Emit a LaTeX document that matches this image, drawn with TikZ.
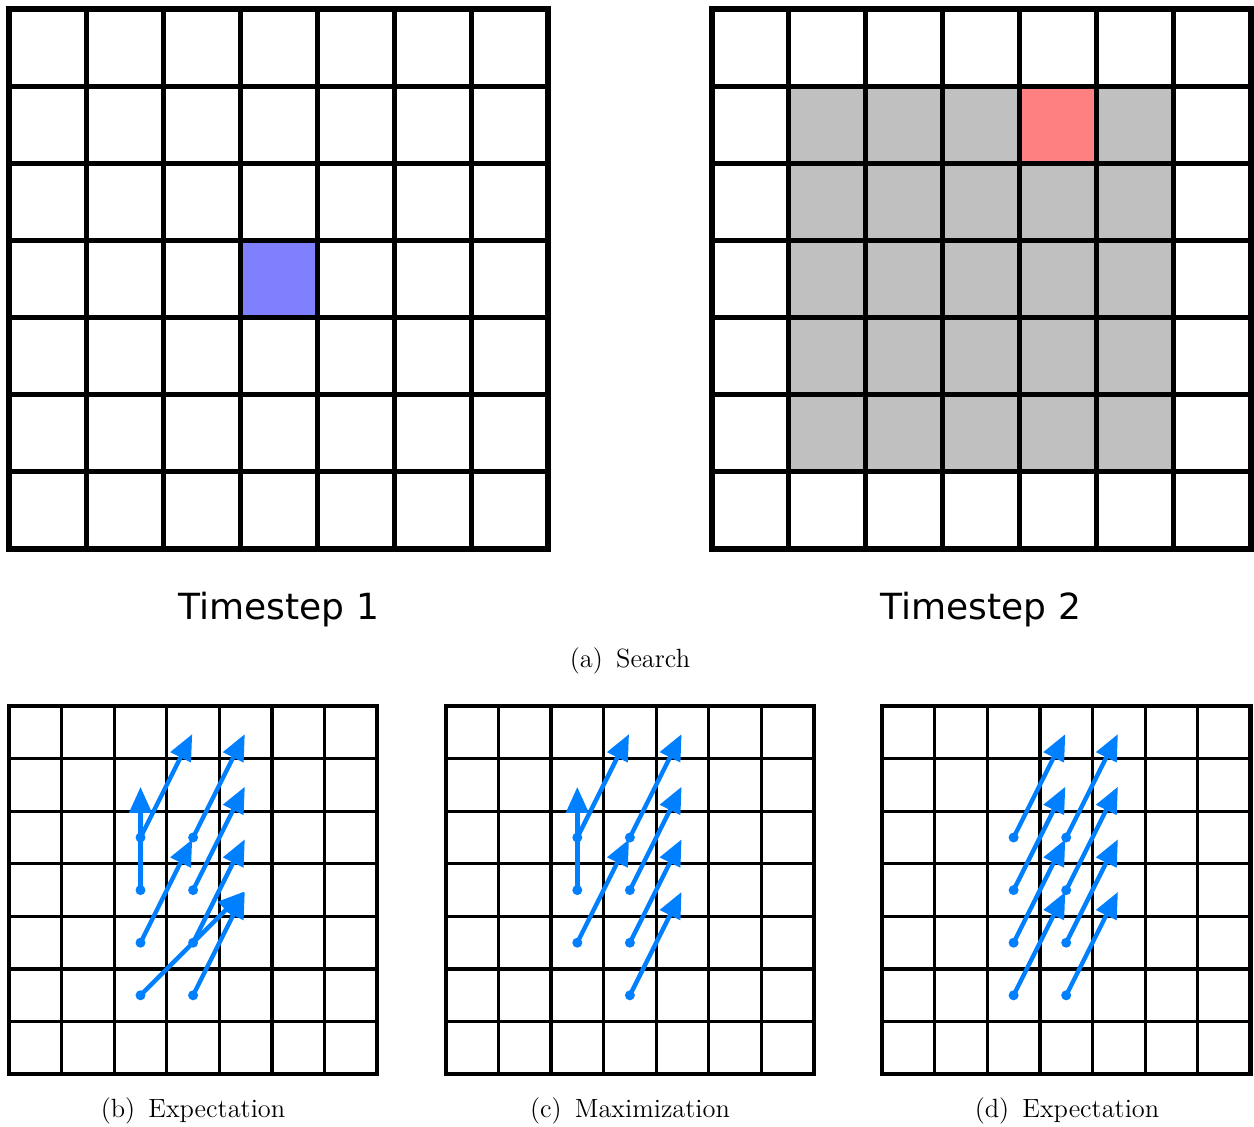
\documentclass[tikz,border=0pt]{standalone}
\usepackage{fontspec}
\newfontfamily\dejavu{DejaVu Sans}
\usetikzlibrary{arrows.meta}
\definecolor{arrowblue}{RGB}{0,128,255}
\definecolor{cellblue}{RGB}{128,128,255}
\definecolor{cellred}{RGB}{255,128,128}
\definecolor{cellgray}{RGB}{192,192,192}
\tikzset{
  bigcell/.style={draw=black, line width=1.25pt},
  smallcell/.style={draw=black, line width=0.8pt},
  bigframe/.style={draw=black, line width=3pt},
  smallframe/.style={draw=black, line width=2.25pt},
  dot/.style={circle, fill=arrowblue, inner sep=0pt, minimum size=5pt},
  arr/.style={draw=arrowblue, line width=2.2pt, -{Triangle[length=13pt,width=11pt]}, shorten >=1pt},
  tslabel/.style={font=\dejavu\fontsize{18}{21}\selectfont, anchor=base},
  caplabel/.style={font=\fontsize{13.2}{16}\selectfont, anchor=base}
}
\begin{document}
\begin{tikzpicture}[x=0.5pt,y=-0.5pt]
\useasboundingbox (0,0) rectangle (1254,1126);
\fill[white] (0,0) rectangle (1254,1126);

% ---- top grids ----
\def\bc{77.07}
% fills
\fill[cellblue] (9+3*\bc,9+3*\bc) rectangle ++(\bc,\bc);
\foreach \c in {1,...,5}{\foreach \r in {1,...,5}{
  \fill[cellgray] (711.5+\c*\bc,9+\r*\bc) rectangle ++(\bc,\bc);}}
\fill[cellred] (711.5+4*\bc,9+1*\bc) rectangle ++(\bc,\bc);
\foreach \gx in {9,711.5}{
  \foreach \c in {0,...,6}{\foreach \r in {0,...,6}{
    \draw[bigcell] (\gx+\c*\bc+1.2,9+\r*\bc+1.2) rectangle ++(\bc-2.4,\bc-2.4);}}
  \draw[bigframe] (\gx,9) rectangle ++(7*\bc,7*\bc);
}
\node[tslabel] (t1) at (279,619) {Timestep 1};
\node[tslabel] (t2) at (981,619) {Timestep 2};
\node[caplabel] (ca) at (630,667) {(a)\enspace Search};

% ---- bottom grids ----
\def\sc{52.6}
\foreach \gx/\g in {9/b,445.8/c,882.1/d}{
  \foreach \c in {0,...,6}{\foreach \r in {0,...,6}{
    \draw[smallcell] (\gx+\c*\sc+0.8,706+\r*\sc+0.8) rectangle ++(\sc-1.6,\sc-1.6);
    \coordinate (\g\c\r) at (\gx+\c*\sc+0.5*\sc,706+\r*\sc+0.5*\sc);}}
  \draw[smallframe] (\gx,706) rectangle ++(7*\sc,7*\sc);
}

% (b) Expectation
\draw[arr] (b22) -- (b30);
\draw[arr] (b32) -- (b40);
\draw[arr] (b23) -- (b21);
\draw[arr] (b33) -- (b41);
\draw[arr] (b24) -- (b32);
\draw[arr] (b34) -- (b42);
\draw[arr] (b25) -- (b43);
\draw[arr] (b35) -- (b43);
\foreach \p in {22,32,23,33,24,34,25,35}{\node[dot] (db\p) at (b\p) {};}

% (c) Maximization
\draw[arr] (c22) -- (c30);
\draw[arr] (c32) -- (c40);
\draw[arr] (c23) -- (c21);
\draw[arr] (c33) -- (c41);
\draw[arr] (c24) -- (c32);
\draw[arr] (c34) -- (c42);
\draw[arr] (c35) -- (c43);
\foreach \p in {22,32,23,33,24,34,35}{\node[dot] (dc\p) at (c\p) {};}

% (d) Expectation
\draw[arr] (d22) -- (d30);
\draw[arr] (d32) -- (d40);
\draw[arr] (d23) -- (d31);
\draw[arr] (d33) -- (d41);
\draw[arr] (d24) -- (d32);
\draw[arr] (d34) -- (d42);
\draw[arr] (d25) -- (d33);
\draw[arr] (d35) -- (d43);
\foreach \p in {22,32,23,33,24,34,25,35}{\node[dot] (dd\p) at (d\p) {};}

\node[caplabel] (cb) at (193,1117) {(b)\enspace Expectation};
\node[caplabel] (cc) at (630,1117) {(c)\enspace Maximization};
\node[caplabel] (cd) at (1067,1117) {(d)\enspace Expectation};
\end{tikzpicture}
\end{document}
